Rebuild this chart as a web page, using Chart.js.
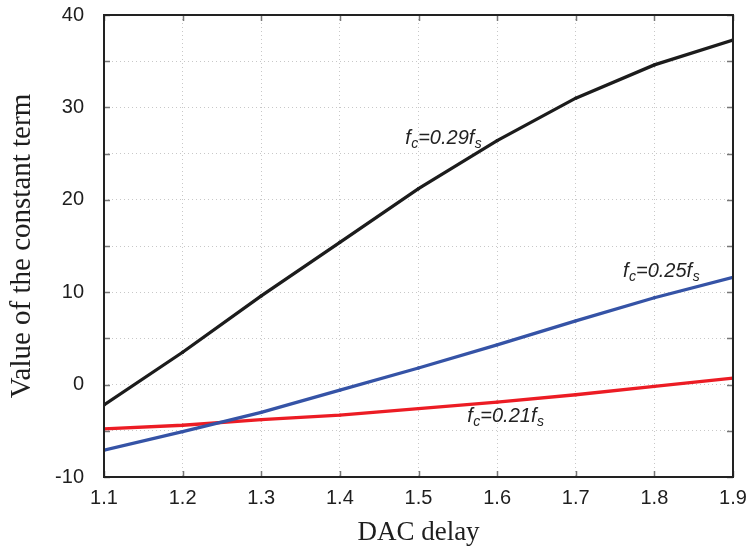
<!DOCTYPE html>
<html>
<head>
<meta charset="utf-8">
<script src="https://cdn.jsdelivr.net/npm/chart.js@4.4.1/dist/chart.umd.min.js"></script>
<style>
  html, body { margin: 0; padding: 0; background: #fff; }
  #wrap { width: 747px; height: 551px; }
</style>
</head>
<body>
<div id="wrap"><canvas id="chart"></canvas></div>
<script>
// DAC delay values (x)
const delays = [1.1, 1.2, 1.3, 1.4, 1.5, 1.6, 1.7, 1.8, 1.9];
// constant term for each cutoff frequency
const fc029 = [-2.2, 3.5, 9.6, 15.4, 21.2, 26.4, 31.0, 34.6, 37.3];
const fc025 = [-7.1, -5.1, -3.0, -0.6, 1.8, 4.3, 6.9, 9.4, 11.6];
const fc021 = [-4.8, -4.4, -3.8, -3.3, -2.6, -1.9, -1.1, -0.2, 0.7];
// in-plot labels: [main, sub, value, sub] and anchor in data units
const labelTexts = [['f', 'c', '=0.29f', 's'], ['f', 'c', '=0.25f', 's'], ['f', 'c', '=0.21f', 's']];
const labelX = [1.483, 1.760, 1.562];
const labelY = [26.0, 11.65, -4.05];

const toPoints = ys => delays.map((x, i) => ({ x: x, y: ys[i] }));

// frame + inward tick marks like the original plot
const framePlugin = {
    id: 'frame',
    afterDraw(chart) {
        const ctx = chart.ctx;
        const a = chart.chartArea;
        const xs = chart.scales.x, ys = chart.scales.y;
        ctx.save();
        ctx.strokeStyle = '#777';
        ctx.lineWidth = 1.5;
        ctx.beginPath();
        xs.ticks.forEach(t => {
            const px = Math.round(xs.getPixelForValue(t.value)) + 0.5;
            ctx.moveTo(px, a.bottom); ctx.lineTo(px, a.bottom - 6);
            ctx.moveTo(px, a.top); ctx.lineTo(px, a.top + 6);
        });
        ys.ticks.forEach(t => {
            const py = Math.round(ys.getPixelForValue(t.value)) + 0.5;
            ctx.moveTo(a.left, py); ctx.lineTo(a.left + 6, py);
            ctx.moveTo(a.right, py); ctx.lineTo(a.right - 6, py);
        });
        ctx.stroke();
        ctx.strokeStyle = '#222';
        ctx.lineWidth = 2;
        ctx.strokeRect(a.left, a.top, a.right - a.left, a.bottom - a.top);

        // curve labels
        ctx.fillStyle = '#222';
        ctx.textBaseline = 'alphabetic';
        labelTexts.forEach((parts, i) => {
            let x = xs.getPixelForValue(labelX[i]);
            const y = ys.getPixelForValue(labelY[i]);
            parts.forEach((p, j) => {
                const isSub = j % 2 === 1;
                ctx.font = isSub ? 'italic 14px "Liberation Sans"' : 'italic 20px "Liberation Sans"';
                ctx.fillText(p, x, isSub ? y + 4 : y);
                x += ctx.measureText(p).width + (isSub ? 0 : 0.5);
            });
        });
        ctx.restore();
    }
};

new Chart(document.getElementById('chart'), {
    type: 'line',
    data: {
        datasets: [
            { data: toPoints(fc029), borderColor: '#1c1c1c', backgroundColor: '#1c1c1c' },
            { data: toPoints(fc025), borderColor: '#3553a6', backgroundColor: '#3553a6' },
            { data: toPoints(fc021), borderColor: '#ec1c24', backgroundColor: '#ec1c24' }
        ]
    },
    options: {
        responsive: true,
        maintainAspectRatio: false,
        animation: false,
        layout: { padding: { left: 0, right: 14, top: 15, bottom: 0 } },
        elements: {
            line: { borderWidth: 3.3, tension: 0 },
            point: { radius: 1.7, borderWidth: 0 }
        },
        plugins: { legend: { display: false }, tooltip: { enabled: false } },
        scales: {
            x: {
                type: 'linear',
                min: 1.1,
                max: 1.9,
                afterFit: s => { s.height = 74; s.paddingLeft = 0; s.paddingRight = 0; },
                ticks: {
                    stepSize: 0.1,
                    padding: 9,
                    color: '#1e1e1e',
                    font: { family: '"Liberation Sans"', size: 20 },
                    callback: v => v.toFixed(1)
                },
                grid: { color: '#c8c8c8', drawTicks: false },
                border: { display: false, dash: [1, 3] },
                title: {
                    display: true,
                    text: 'DAC delay',
                    color: '#1e1e1e',
                    font: { family: '"Liberation Serif"', size: 27 },
                    padding: { top: 0, bottom: 2 }
                }
            },
            y: {
                min: -10,
                max: 40,
                afterFit: s => { s.width = 104; s.paddingTop = 0; s.paddingBottom = 0; },
                ticks: {
                    stepSize: 5,
                    padding: 20,
                    color: '#1e1e1e',
                    font: { family: '"Liberation Sans"', size: 20 },
                    callback: v => (v % 10 === 0 ? v : '')
                },
                grid: { color: '#c8c8c8', drawTicks: false },
                border: { display: false, dash: [1, 3] },
                title: {
                    display: true,
                    text: 'Value of the constant term',
                    color: '#1e1e1e',
                    font: { family: '"Liberation Serif"', size: 29 },
                    padding: { top: 5, bottom: 0 }
                }
            }
        }
    },
    plugins: [framePlugin]
});
</script>
</body>
</html>
